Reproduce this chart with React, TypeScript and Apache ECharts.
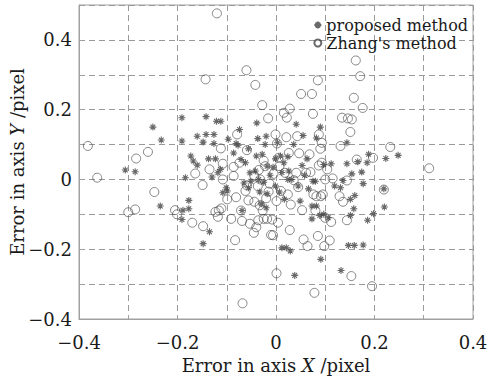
import React, { useEffect, useRef } from "react";
import * as echarts from "echarts";

const xTicks = [-0.4, -0.2, 0, 0.2, 0.4];
const yTicks = [-0.4, -0.2, 0, 0.2, 0.4];
const seriesNames = ["proposed method", "Zhang's method"];

const proposedPoints: number[][] = [
  [-0.306, 0.027], [-0.286, 0.022], [-0.25, 0.15], [-0.233, 0.113], [-0.235, -0.076],
  [-0.191, 0.177], [-0.191, 0.11], [-0.184, 0.005], [-0.189, -0.088], [-0.191, -0.115],
  [-0.177, -0.06], [-0.177, -0.084], [-0.173, 0.067], [-0.168, 0.053], [-0.16, 0.041],
  [-0.16, 0.124], [-0.148, -0.184], [-0.148, 0.107], [-0.142, 0.18], [-0.142, 0.129],
  [-0.135, -0.15], [-0.13, 0.007], [-0.137, 0.059], [-0.126, 0.129], [-0.126, 0.103],
  [-0.121, 0.167], [-0.112, 0.167], [-0.118, 0.019], [-0.113, 0.029], [-0.123, 0.059],
  [-0.108, -0.038], [-0.101, -0.024], [-0.097, 0.115], [-0.099, -0.033], [-0.086, 0.076],
  [-0.081, 0.103], [-0.077, 0.098], [-0.074, 0.143], [-0.071, 0.057], [-0.069, -0.089],
  [-0.062, 0.048], [-0.056, 0.088], [-0.056, -0.024], [-0.053, 0.019], [-0.051, -0.005],
  [-0.042, 0.024], [-0.039, 0.162], [-0.037, 0.117], [-0.04, 0.067], [-0.035, 0.0],
  [-0.033, -0.036], [-0.028, 0.072], [-0.025, -0.008], [-0.022, 0.1], [-0.02, 0.124],
  [-0.018, -0.041], [-0.018, 0.038], [-0.02, -0.081], [-0.012, 0.012], [-0.006, 0.035],
  [-0.001, 0.059], [0.003, 0.105], [0.007, -0.036], [0.009, 0.067], [0.012, -0.196],
  [0.016, 0.048], [0.017, -0.057], [0.021, -0.196], [0.024, 0.065], [0.026, 0.024],
  [0.029, -0.205], [0.032, 0.0], [0.036, 0.1], [0.038, -0.275], [0.041, 0.158],
  [0.045, -0.019], [0.049, -0.062], [0.053, 0.04], [0.055, 0.126], [0.063, 0.059],
  [0.066, -0.027], [0.073, -0.113], [0.073, -0.076], [0.075, -0.005], [0.08, -0.005],
  [0.082, -0.076], [0.082, 0.119], [0.09, 0.15], [0.089, -0.103], [0.091, -0.229],
  [0.097, 0.043], [0.097, -0.1], [0.106, -0.11], [0.112, 0.045], [0.119, -0.019],
  [0.131, -0.024], [0.132, -0.261], [0.136, -0.003], [0.144, 0.045], [0.144, 0.105],
  [0.147, -0.189], [0.151, -0.057], [0.151, -0.103], [0.154, 0.016], [0.158, -0.084],
  [0.159, -0.189], [0.16, -0.046], [0.166, 0.051], [0.174, 0.021], [0.177, -0.012],
  [0.177, -0.188], [0.185, 0.048], [0.186, -0.117], [0.188, 0.072], [0.198, -0.098],
  [0.219, -0.027], [0.22, -0.079], [0.223, 0.06], [0.248, 0.069], [-0.001, -0.019],
  [0.024, 0.0], [0.058, 0.012], [-0.03, -0.07], [0.012, 0.02], [-0.065, -0.01],
];

const zhangPoints: number[][] = [
  [-0.12, 0.476], [-0.382, 0.096], [-0.363, 0.005], [-0.284, 0.06], [-0.26, 0.079],
  [-0.247, -0.036], [-0.3, -0.094], [-0.286, -0.086], [-0.205, -0.088], [-0.201, -0.1],
  [-0.17, -0.124], [-0.164, 0.017], [-0.149, -0.016], [-0.148, -0.134], [-0.143, 0.287],
  [-0.135, 0.029], [-0.123, -0.093], [-0.116, -0.089], [-0.118, -0.107], [-0.111, -0.083],
  [-0.112, 0.089], [-0.108, 0.045], [-0.108, 0.0], [-0.099, -0.057], [-0.091, -0.113],
  [-0.083, -0.174], [-0.081, -0.051], [-0.079, 0.129], [-0.086, 0.01], [-0.086, 0.036],
  [-0.074, 0.048], [-0.071, -0.089], [-0.069, -0.119], [-0.068, -0.355], [-0.062, -0.033],
  [-0.06, 0.313], [-0.059, 0.084], [-0.059, -0.017], [-0.056, -0.06], [-0.053, -0.127],
  [-0.045, -0.153], [-0.044, -0.064], [-0.042, 0.271], [-0.044, 0.01], [-0.04, -0.137],
  [-0.037, -0.019], [-0.035, 0.027], [-0.036, -0.117], [-0.033, -0.074], [-0.032, 0.0],
  [-0.028, 0.213], [-0.027, -0.089], [-0.025, 0.054], [-0.022, 0.038], [-0.02, -0.054],
  [-0.018, -0.113], [-0.025, -0.113], [-0.016, 0.175], [-0.015, -0.035], [-0.013, -0.012],
  [-0.01, -0.159], [-0.008, -0.115], [-0.006, -0.16], [-0.005, 0.016], [-0.001, 0.129],
  [0.001, -0.062], [0.001, -0.269], [0.002, 0.103], [0.004, -0.124], [0.005, 0.062],
  [0.007, 0.038], [0.01, -0.033], [0.016, 0.191], [0.018, 0.019], [0.021, 0.121],
  [0.022, 0.177], [0.024, -0.043], [0.026, 0.076], [0.028, 0.203], [0.028, -0.145],
  [0.03, -0.072], [0.036, -0.002], [0.041, 0.019], [0.043, 0.124], [0.045, -0.022],
  [0.047, 0.075], [0.051, 0.245], [0.053, -0.088], [0.056, -0.172], [0.061, 0.019],
  [0.064, -0.191], [0.068, 0.072], [0.07, 0.021], [0.073, 0.245], [0.075, 0.188],
  [0.076, -0.043], [0.078, -0.325], [0.08, -0.089], [0.082, -0.048], [0.085, 0.284],
  [0.085, -0.162], [0.087, 0.129], [0.087, 0.04], [0.09, 0.088], [0.091, -0.048],
  [0.093, 0.105], [0.093, 0.048], [0.095, -0.043], [0.098, -0.191], [0.1, 0.0],
  [0.1, -0.11], [0.104, 0.029], [0.109, -0.175], [0.112, -0.122], [0.115, 0.003],
  [0.131, 0.096], [0.129, -0.048], [0.136, -0.064], [0.134, 0.177], [0.144, -0.003],
  [0.146, 0.175], [0.144, -0.117], [0.151, 0.136], [0.153, -0.277], [0.154, 0.172],
  [0.158, 0.234], [0.162, 0.341], [0.164, 0.057], [0.171, 0.296], [0.176, 0.205],
  [0.195, -0.306], [0.197, 0.062], [0.219, -0.029], [0.232, 0.093], [0.311, 0.032],
];

const STAR = "path://M5 0L5 10M0 5L10 5M1.6 1.6L8.4 8.4M1.6 8.4L8.4 1.6";
const SERIF = "'DejaVu Serif', 'Liberation Serif', serif";
const TEXT = "#1a1a1a";
const MARK = "#444444";

function fmt(v: number): string {
  const k = Math.round(v * 10);
  const allowed = xTicks.concat(yTicks).map((t) => Math.round(t * 10));
  if (!allowed.includes(k)) return "";
  if (k === 0) return "0";
  return (k < 0 ? "\u2212" : "") + (Math.abs(k) / 10).toFixed(1);
}

export default function App() {
  const ref = useRef<HTMLDivElement>(null);
  useEffect(() => {
    if (!ref.current) return;
    const chart = echarts.init(ref.current, undefined, { renderer: "svg" });
    const splitLine = { show: true, lineStyle: { color: "#9a9a9a", type: [6, 4] as any, width: 1 } };
    const rich = {
      a: { fontFamily: SERIF, fontSize: 18, color: TEXT },
      i: { fontFamily: SERIF, fontSize: 18, color: TEXT, fontStyle: "italic" },
    };
    chart.setOption({
      animation: false,
      backgroundColor: "#ffffff",
      grid: {
        left: 79, right: 16, top: 5, bottom: 58,
        outerBoundsMode: "none",
        containLabel: false,
        show: true, borderColor: "#a0a0a0", borderWidth: 1,
      },
      legend: {
        orient: "vertical",
        right: 16,
        top: 12,
        itemGap: 2,
        itemWidth: 7,
        itemHeight: 7,
        data: seriesNames,
        textStyle: { fontFamily: SERIF, fontSize: 16, color: TEXT },
      },
      xAxis: {
        type: "value",
        min: -0.4,
        max: 0.4,
        interval: 0.1,
        name: "{a|Error in axis }{i|X}{a| /pixel}",
        nameLocation: "middle",
        nameGap: 46,
        nameMoveOverlap: false,
        nameTextStyle: { rich, verticalAlign: "middle" },
        axisLine: { show: true, onZero: false, lineStyle: { color: "#a0a0a0" } },
        axisTick: { show: true, inside: true, length: 4, lineStyle: { color: "#a0a0a0" } },
        axisLabel: { formatter: fmt, fontFamily: SERIF, fontSize: 18, color: TEXT, margin: 14 },
        splitLine,
      },
      yAxis: {
        type: "value",
        min: -0.4,
        max: 0.5,
        interval: 0.1,
        name: "{a|Error in axis }{i|Y}{a| /pixel}",
        nameLocation: "middle",
        nameGap: 62,
        nameMoveOverlap: false,
        nameRotate: 90,
        nameTextStyle: { rich, verticalAlign: "middle" },
        axisLine: { show: true, onZero: false, lineStyle: { color: "#a0a0a0" } },
        axisTick: { show: true, inside: true, length: 4, lineStyle: { color: "#a0a0a0" } },
        axisLabel: { formatter: fmt, fontFamily: SERIF, fontSize: 18, color: TEXT, margin: 7 },
        splitLine,
      },
      series: [
        {
          name: seriesNames[0],
          type: "scatter",
          data: proposedPoints,
          symbol: STAR,
          symbolSize: 7,
          itemStyle: { color: "transparent", borderColor: MARK, borderWidth: 1.1 },
          z: 2,
        },
        {
          name: seriesNames[1],
          type: "scatter",
          data: zhangPoints,
          symbol: "circle",
          symbolSize: 9,
          itemStyle: { color: "transparent", borderColor: MARK, borderWidth: 0.8 },
          z: 3,
        },
      ],
    });
    return () => chart.dispose();
  }, []);
  return <div ref={ref} style={{ width: 489, height: 377, position: "absolute", left: 0, top: 0 }} />;
}
